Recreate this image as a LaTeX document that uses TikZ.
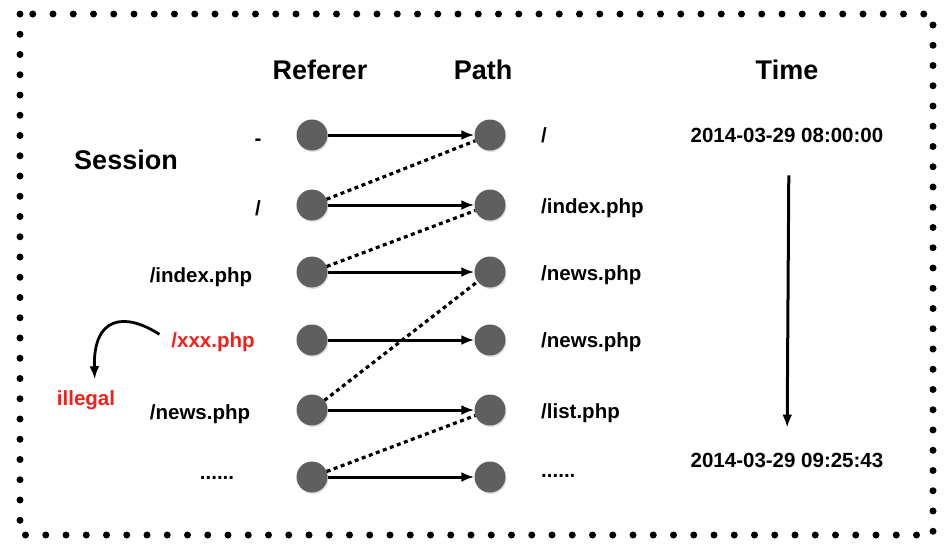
\documentclass[tikz,border=0pt]{standalone}
\usepackage{fontspec}
\setmainfont{Liberation Sans}
\usepackage{xcolor}
\usepackage{tikz}
\usetikzlibrary{arrows.meta, positioning, calc, shadows}

\definecolor{dotgray}{HTML}{5F5F5F}
\definecolor{illred}{HTML}{F0201A}

\tikzset{
    hit/.style={circle, fill=dotgray, minimum size=31pt, inner sep=0pt,
        drop shadow={shadow xshift=1pt, shadow yshift=-1.5pt, opacity=0.25}},
    head/.style={font=\fontsize{27}{31}\selectfont\bfseries},
    lbl/.style={font=\fontsize{20.5}{24}\selectfont\bfseries, inner sep=0pt},
    flow/.style={-{Latex[length=13pt, width=10pt]}, line width=3pt},
    jump/.style={line width=3.2pt, dash pattern=on 4pt off 3.5pt},
    border/.style={line width=7pt, line cap=round, dash pattern=on 0pt off 20.25pt}
}

\begin{document}
\begin{tikzpicture}[x=1pt, y=-1pt]
    \useasboundingbox (0,0) rectangle (952,549);

    % Outer dotted frame
    \draw[border] (20,14) rectangle (933,535);

    % Headers
    \node[head] (hreferer) at (320,70) {Referer};
    \node[head] (hpath) at (483,70) {Path};
    \node[head] (htime) at (787,70) {Time};
    \node[head] (session) at (126,160) {Session};

    % Referer and path points, one row per request
    \foreach \i/\y in {1/135, 2/205, 3/272, 4/340, 5/410, 6/477} {
        \node[hit] (r\i) at (312,\y) {};
        \node[hit] (p\i) at (490,\y) {};
        \draw[flow] (r\i) -- (p\i);
    }

    % Referer comes from the previous path
    \draw[jump] (r2) -- (p1);
    \draw[jump] (r3) -- (p2);
    \draw[jump] (r5) -- (p3);
    \draw[jump] (r6) -- (p5);

    % Referer labels
    \node[lbl] (ref1) at (258,142) {-};
    \node[lbl] (ref2) at (258,208) {/};
    \node[lbl] (ref3) at (201,277) {/index.php};
    \node[lbl, illred] (ref4) at (213,342) {/xxx.php};
    \node[lbl] (ref5) at (200,414) {/news.php};
    \node[lbl] (ref6) at (217,478) {......};

    % Path labels
    \node[lbl, anchor=west] (path1) at (541,135) {/};
    \node[lbl, anchor=west] (path2) at (541,208) {/index.php};
    \node[lbl, anchor=west] (path3) at (541,275) {/news.php};
    \node[lbl, anchor=west] (path4) at (541,342) {/news.php};
    \node[lbl, anchor=west] (path5) at (541,413) {/list.php};
    \node[lbl, anchor=west] (path6) at (541,476) {......};

    % Illegal referer
    \node[lbl, illred] (illegal) at (86,400) {illegal};
    \draw[flow, line width=2.8pt, shorten <=14pt, shorten >=11pt]
        (ref4.west) .. controls (125,312) and (93,316) .. ([xshift=9pt]illegal.north);

    % Time axis
    \node[lbl] (t1) at (787,135) {2014-03-29 08:00:00};
    \node[lbl] (t2) at (787,460) {2014-03-29 09:25:43};
    \draw[flow, shorten <=33pt, shorten >=25pt] ([xshift=2pt]t1.south) -- (t2.north);
\end{tikzpicture}
\end{document}
